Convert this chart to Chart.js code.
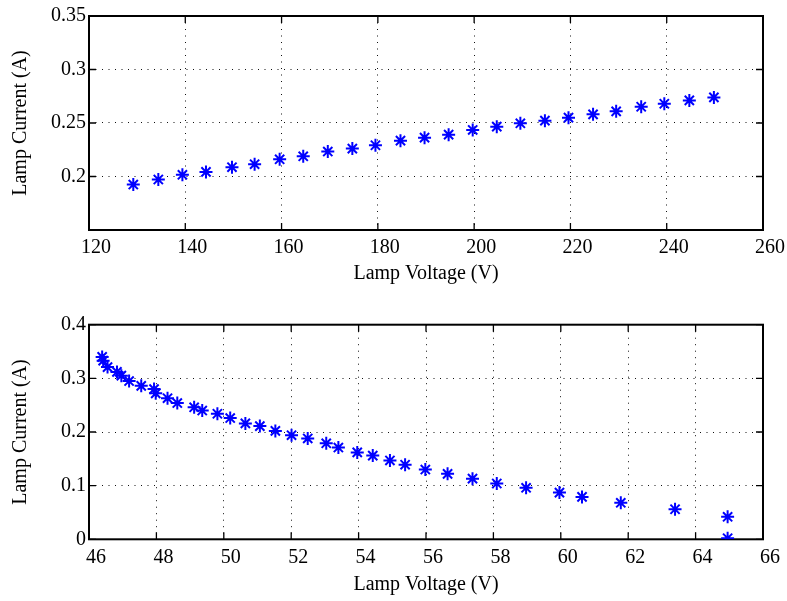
<!DOCTYPE html>
<html>
<head>
<meta charset="utf-8">
<script src="https://cdn.jsdelivr.net/npm/chart.js@4.4.1/dist/chart.umd.min.js"></script>
<style>
    html, body { margin: 0; padding: 0; background: #fff; }
    #wrap { position: relative; width: 787px; height: 601px; }
    .box { position: absolute; left: 0; width: 787px; }
    #topBox { top: 0; height: 300px; }
    #bottomBox { top: 300px; height: 301px; }
</style>
</head>
<body>
<div id="wrap">
    <div class="box" id="topBox"><canvas id="topChart" width="787" height="300"></canvas></div>
    <div class="box" id="bottomBox"><canvas id="bottomChart" width="787" height="301"></canvas></div>
</div>
<script>
// top: lamp current vs lamp voltage (high voltage range)
const topVoltage = [129.2, 134.4, 139.4, 144.3, 149.7, 154.4, 159.6, 164.5, 169.6, 174.7, 179.5, 184.7, 189.7,
    194.7, 199.7, 204.7, 209.6, 214.7, 219.6, 224.7, 229.5, 234.7, 239.5, 244.7, 249.8];
const topCurrent = [0.1925, 0.1972, 0.2016, 0.2043, 0.2087, 0.2115, 0.2161, 0.2189, 0.2233, 0.2261, 0.2292, 0.2335, 0.2363,
    0.2391, 0.2435, 0.2466, 0.2497, 0.2522, 0.2550, 0.2581, 0.2609, 0.2652, 0.2680, 0.2711, 0.2739];
const topXTicks = [120, 140, 160, 180, 200, 220, 240, 260];
const topYTicks = [0.2, 0.25, 0.3, 0.35];

// bottom: lamp current vs lamp voltage (low voltage range)
const bottomVoltage = [46.39, 46.42, 46.55, 46.83, 46.96, 47.19, 47.55, 47.93, 47.98, 48.33, 48.62, 49.12, 49.36,
    49.81, 50.19, 50.64, 51.07, 51.53, 52.01, 52.49, 53.04, 53.40, 53.96, 54.42, 54.93, 55.38, 55.98,
    56.64, 57.38, 58.10, 58.97, 59.96, 60.63, 61.78, 63.39, 64.95, 64.95];
const bottomCurrent = [0.340, 0.333, 0.321, 0.312, 0.305, 0.295, 0.286, 0.280, 0.272, 0.263, 0.254, 0.246, 0.240,
    0.234, 0.226, 0.216, 0.211, 0.202, 0.194, 0.188, 0.179, 0.171, 0.162, 0.156, 0.147, 0.139, 0.130,
    0.122, 0.113, 0.104, 0.096, 0.087, 0.079, 0.068, 0.056, 0.042, 0.002];
const bottomXTicks = [46, 48, 50, 52, 54, 56, 58, 60, 62, 64, 66];
const bottomYTicks = [0, 0.1, 0.2, 0.3, 0.4];

const xTitle = 'Lamp Voltage (V)';
const yTitle = 'Lamp Current (A)';

const FONT = "'Liberation Serif', 'Times New Roman', serif";

// matlab-like box with inward tick marks
const boxPlugin = {
    id: 'matlabBox',
    beforeDatasetsDraw(chart) {
        const ctx = chart.ctx;
        const a = chart.chartArea;
        const xs = chart.scales.x, ys = chart.scales.y;
        const len = 7;
        ctx.save();
        ctx.strokeStyle = '#000';
        ctx.lineWidth = 1.3;
        ctx.beginPath();
        xs.ticks.forEach(t => {
            const px = xs.getPixelForValue(t.value);
            ctx.moveTo(px, a.bottom); ctx.lineTo(px, a.bottom - len);
            ctx.moveTo(px, a.top); ctx.lineTo(px, a.top + len);
        });
        ys.ticks.forEach(t => {
            const py = ys.getPixelForValue(t.value);
            ctx.moveTo(a.left, py); ctx.lineTo(a.left + len, py);
            ctx.moveTo(a.right, py); ctx.lineTo(a.right - len, py);
        });
        ctx.stroke();
        ctx.lineWidth = 2;
        ctx.strokeRect(a.left, a.top, a.right - a.left, a.bottom - a.top);
        ctx.restore();
    }
};

function makeChart(id, xs, ys, xTicks, yTicks, yMin, pad, xAxisHeight, titlePadBottom) {
    const points = xs.map((v, i) => ({ x: v, y: ys[i] }));
    const ctx = document.getElementById(id).getContext('2d');
    return new Chart(ctx, {
        type: 'scatter',
        data: {
            datasets: [{
                data: points,
                pointStyle: 'star',
                pointRadius: 6.5,
                borderColor: '#0000ff',
                backgroundColor: '#0000ff',
                borderWidth: 2
            }]
        },
        options: {
            responsive: false,
            animation: false,
            layout: { padding: pad },
            plugins: { legend: { display: false }, tooltip: { enabled: false } },
            scales: {
                x: {
                    type: 'linear',
                    min: xTicks[0],
                    max: xTicks[xTicks.length - 1],
                    afterBuildTicks: scale => { scale.ticks = xTicks.map(v => ({ value: v })); },
                    afterFit: scale => { scale.height = xAxisHeight; },
                    grid: { color: '#111', lineWidth: 1, drawTicks: false },
                    border: { display: false, dash: [1, 5.5] },
                    ticks: {
                        padding: 6,
                        labelOffset: 7,
                        maxRotation: 0,
                        autoSkip: false,
                        color: '#000',
                        font: { family: FONT, size: 20 },
                        callback: v => String(v)
                    },
                    title: {
                        display: true,
                        text: xTitle,
                        color: '#000',
                        font: { family: FONT, size: 20 },
                        padding: { top: 0, bottom: titlePadBottom }
                    }
                },
                y: {
                    type: 'linear',
                    min: yMin,
                    max: yTicks[yTicks.length - 1],
                    afterBuildTicks: scale => { scale.ticks = yTicks.map(v => ({ value: v })); },
                    afterFit: scale => { scale.width = 89; },
                    grid: { color: '#111', lineWidth: 1, drawTicks: false },
                    border: { display: false, dash: [1, 5.5] },
                    ticks: {
                        padding: 3,
                        autoSkip: false,
                        color: '#000',
                        font: { family: FONT, size: 20 },
                        callback: v => String(+Number(v).toFixed(2))
                    },
                    title: {
                        display: true,
                        text: yTitle,
                        color: '#000',
                        font: { family: FONT, size: 20 },
                        padding: { top: 9, bottom: 0 }
                    }
                }
            }
        },
        plugins: [boxPlugin]
    });
}

makeChart('topChart', topVoltage, topCurrent, topXTicks, topYTicks, 0.15,
    { left: 0, right: 24, top: 16, bottom: 0 }, 70, 14);
makeChart('bottomChart', bottomVoltage, bottomCurrent, bottomXTicks, bottomYTicks, 0,
    { left: 0, right: 24, top: 24.7, bottom: 0 }, 61.7, 4);
</script>
</body>
</html>
